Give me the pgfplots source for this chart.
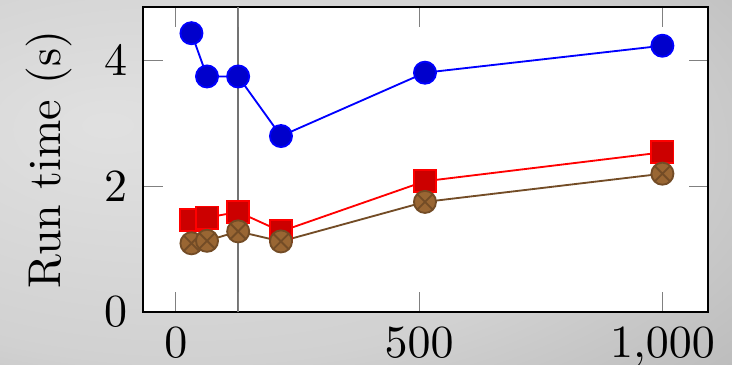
\documentclass[border=0pt]{standalone}
\usepackage{pgfplots}
\pgfplotsset{compat=1.18}

% soft grey vignette behind the chart
\pgfdeclareradialshading{slidebg}{\pgfpoint{-18bp}{8bp}}{%
  color(0bp)=(black!12);
  color(30bp)=(black!18);
  color(60bp)=(black!34);
  color(90bp)=(black!38)}

\begin{document}
\begin{tikzpicture}
  \path[use as bounding box] (-31.15pt,-11.59pt) rectangle (127.98pt,67.76pt);
  \shade[shading=slidebg] (-31.15pt,-11.59pt) rectangle (127.98pt,67.76pt);
  \begin{axis}[
    at={(0,0)}, anchor=south west,
    scale only axis,
    width=122.8pt, height=66.2pt,
    xmin=-67, xmax=1094,
    ymin=0, ymax=4.855,
    xtick={0,500,1000},
    ytick={0,2,4},
    extra x ticks={128},
    extra x tick labels={},
    extra x tick style={grid=major, major grid style={black!55, thin}},
    axis background/.style={fill=white},
    every axis plot/.append style={mark size=2.4pt},
    ylabel={Run time (s)},
    ylabel style={at={(axis description cs:0,0.5)}, anchor=center, rotate=0, yshift=20.6pt},
  ]
    % default cycle: blue circles, red squares, brown crossed circles
    \addplot coordinates {(32,4.44) (64,3.75) (128,3.75) (216,2.80) (512,3.81) (1000,4.24)};
    \addplot coordinates {(32,1.46) (64,1.50) (128,1.59) (216,1.28) (512,2.08) (1000,2.54)};
    \addplot coordinates {(32,1.09) (64,1.13) (128,1.28) (216,1.12) (512,1.75) (1000,2.20)};
  \end{axis}
\end{tikzpicture}
\end{document}
